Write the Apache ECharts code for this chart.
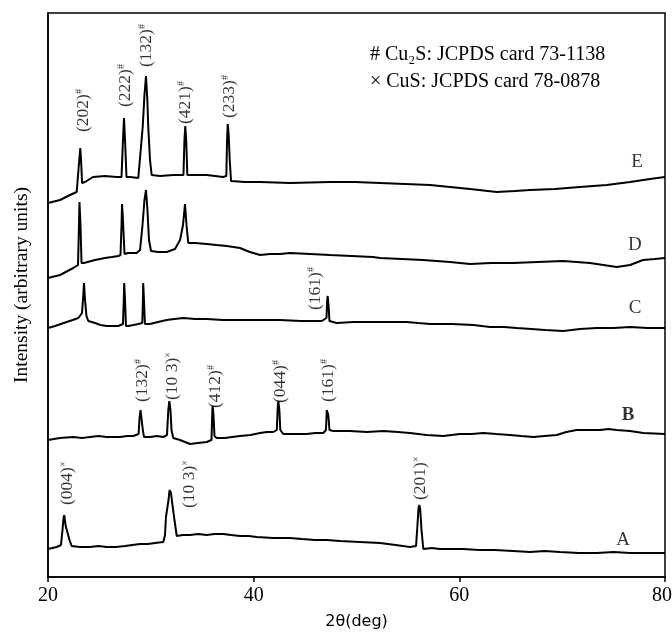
<!DOCTYPE html>
<html>
<head>
<meta charset="utf-8">
<script src="https://cdn.jsdelivr.net/npm/echarts@6/dist/echarts.min.js"></script>
<style>
  html, body { margin: 0; padding: 0; background: #fff; }
  #chart { width: 672px; height: 634px; }
</style>
</head>
<body>
<div id="chart"></div>
<script>
// X-ray diffraction patterns, 2θ (deg) vs intensity (arbitrary units, stacked)
const xTicks = [20, 40, 60, 80];

const traceA = [
  [20.00, 28], [20.85, 30], [21.26, 32], [21.41, 47], [21.51, 59], [21.59, 62], [21.70, 52],
  [21.80, 48], [21.97, 48], [22.09, 37], [22.30, 31], [23.10, 30], [24.08, 30], [24.90, 31],
  [25.71, 30], [26.60, 30], [27.49, 31], [28.20, 32], [28.95, 33], [29.70, 33], [30.41, 34],
  [31.21, 35], [31.38, 42], [31.47, 60], [31.62, 62], [31.72, 77], [31.82, 87], [31.86, 89],
  [31.96, 84], [32.13, 70], [32.30, 57], [32.52, 41], [33.10, 42], [33.81, 42], [34.60, 43],
  [35.43, 42], [36.20, 43], [37.05, 43], [37.80, 42], [38.67, 41], [39.50, 41], [40.30, 40],
  [41.90, 39], [43.53, 39], [44.70, 38], [45.96, 37], [47.10, 37], [48.40, 36], [50.30, 35],
  [52.29, 34], [53.80, 32], [55.20, 30], [55.79, 31], [55.93, 52], [56.03, 69], [56.11, 72],
  [56.20, 67], [56.32, 47], [56.50, 28], [57.30, 29], [58.12, 28], [59.20, 28], [60.39, 28],
  [61.90, 27], [63.47, 27], [65.20, 26], [66.87, 25], [68.30, 26], [69.79, 25], [71.60, 24],
  [73.36, 24], [75.00, 25], [76.60, 24], [78.30, 24], [80.00, 24]
];

const traceB = [
  [20.00, 137], [21.17, 139], [22.46, 140], [23.30, 139], [24.08, 140], [24.90, 141], [25.71, 140],
  [26.40, 140], [27.00, 140], [27.70, 141], [28.30, 141], [28.81, 143], [28.90, 159], [29.00, 167],
  [29.12, 165], [29.22, 147], [29.34, 140], [29.92, 140], [30.60, 141], [31.21, 140], [31.57, 142],
  [31.70, 167], [31.80, 176], [31.91, 167], [32.01, 147], [32.18, 139], [32.84, 137], [33.81, 133],
  [34.59, 134], [35.43, 135], [35.90, 137], [35.98, 167], [36.02, 171], [36.09, 162], [36.19, 141],
  [36.40, 139], [37.21, 139], [37.90, 140], [38.67, 141], [39.70, 142], [40.62, 144], [41.30, 145],
  [41.91, 145], [42.25, 147], [42.35, 172], [42.40, 176], [42.50, 167], [42.59, 147], [42.88, 143],
  [44.02, 143], [45.16, 143], [46.00, 144], [46.77, 144], [47.03, 147], [47.11, 167], [47.16, 169],
  [47.26, 162], [47.37, 147], [47.74, 146], [49.37, 146], [51.00, 145], [52.61, 146], [54.00, 145],
  [55.20, 144], [56.80, 142], [58.44, 141], [60.06, 143], [61.20, 143], [62.33, 144], [63.60, 143],
  [64.92, 142], [66.00, 141], [67.19, 140], [68.30, 141], [69.47, 142], [70.40, 145], [71.41, 147],
  [72.50, 147], [73.68, 147], [74.50, 148], [75.30, 147], [76.60, 146], [77.89, 144], [80.00, 143]
];

const traceC = [
  [20.00, 249], [20.68, 251], [21.82, 255], [22.40, 257], [22.95, 259], [23.31, 264], [23.43, 282],
  [23.50, 294], [23.60, 277], [23.74, 261], [23.92, 256], [24.57, 254], [25.10, 252], [25.71, 251],
  [26.30, 251], [26.84, 251], [27.29, 253], [27.37, 277], [27.41, 294], [27.49, 277], [27.58, 251],
  [27.81, 251], [28.30, 252], [28.78, 253], [29.17, 254], [29.23, 277], [29.26, 294], [29.33, 277],
  [29.43, 253], [29.92, 253], [30.70, 255], [31.54, 257], [32.30, 258], [33.16, 259], [34.30, 258],
  [35.43, 258], [37.00, 257], [38.67, 257], [40.60, 257], [42.56, 257], [44.60, 256], [46.62, 256],
  [47.08, 259], [47.15, 277], [47.20, 281], [47.28, 272], [47.37, 256], [48.07, 254], [49.70, 255],
  [51.29, 255], [53.10, 255], [54.88, 255], [56.00, 254], [57.15, 253], [59.30, 253], [61.36, 252],
  [62.99, 250], [64.30, 250], [65.58, 249], [67.00, 248], [68.33, 247], [70.11, 246], [71.73, 248],
  [73.36, 249], [75.00, 249], [76.60, 250], [78.30, 249], [80.00, 249]
];

const traceD = [
  [20.00, 299], [21.17, 302], [22.46, 309], [22.92, 312], [23.00, 347], [23.06, 375], [23.16, 352],
  [23.26, 314], [23.50, 314], [24.57, 317], [25.54, 319], [26.20, 320], [26.84, 321], [27.05, 322],
  [27.15, 352], [27.20, 373], [27.29, 357], [27.44, 323], [27.78, 324], [28.62, 324], [28.95, 327],
  [29.19, 352], [29.38, 377], [29.53, 387], [29.67, 367], [29.82, 337], [30.02, 326], [30.70, 325],
  [31.54, 325], [32.35, 328], [32.84, 337], [33.13, 352], [33.32, 373], [33.47, 352], [33.64, 334],
  [34.30, 334], [35.43, 333], [36.40, 332], [37.38, 331], [38.67, 329], [39.64, 325], [40.62, 322],
  [41.60, 323], [42.56, 323], [43.53, 324], [45.50, 323], [47.42, 322], [49.50, 321], [51.60, 320],
  [52.29, 319], [54.40, 318], [56.47, 317], [57.80, 316], [59.09, 315], [61.04, 313], [63.10, 314],
  [65.22, 314], [67.60, 315], [70.08, 316], [71.40, 315], [72.71, 314], [74.00, 312], [75.30, 310],
  [76.60, 312], [77.86, 317], [79.00, 318], [80.00, 319]
];

const traceE = [
  [20.00, 374], [21.17, 377], [22.14, 382], [22.79, 385], [22.95, 387], [23.04, 417], [23.14, 429],
  [23.24, 412], [23.31, 394], [23.60, 395], [24.38, 400], [25.54, 401], [26.68, 400], [27.15, 400],
  [27.29, 437], [27.39, 459], [27.49, 437], [27.63, 400], [27.97, 400], [28.78, 399], [28.95, 400],
  [29.21, 450], [29.38, 482], [29.53, 501], [29.66, 477], [29.75, 450], [29.92, 417], [30.08, 402],
  [30.89, 401], [32.18, 402], [33.17, 402], [33.27, 437], [33.35, 451], [33.44, 437], [33.55, 402],
  [34.30, 402], [35.43, 402], [36.24, 401], [37.02, 400], [37.34, 401], [37.41, 437], [37.48, 453],
  [37.57, 442], [37.67, 417], [37.80, 396], [39.16, 395], [40.62, 395], [43.53, 394], [47.42, 395],
  [49.85, 395], [52.29, 394], [54.72, 393], [57.15, 392], [59.09, 390], [61.04, 388], [63.63, 385],
  [65.41, 386], [66.87, 387], [69.30, 388], [71.73, 390], [74.33, 392], [76.60, 395], [78.54, 398],
  [80.00, 400]
];

// Reflection indices: [plane, phase mark, 2θ, intensity at the foot of the label]
const peaksA = [['(004)', '×', 21.90, 72], ['(10 3)', '×', 33.76, 69], ['(201)', '×', 56.22, 77]];
const peaksB = [['(132)', '#', 29.14, 175], ['(10 3)', '×', 32.06, 177], ['(412)', '#', 36.24, 169],
                ['(044)', '#', 42.56, 174], ['(161)', '#', 47.23, 175]];
const peaksC = [['(161)', '#', 45.96, 267]];
const peaksE = [['(202)', '#', 23.40, 445], ['(222)', '#', 27.49, 470], ['(132)', '#', 29.53, 510],
                ['(421)', '#', 33.32, 453], ['(233)', '#', 37.65, 459]];

// Sample names beside each pattern
const sampleNames = ['A', 'B', 'C', 'D', 'E'];
const sampleNamePos = [[75.92, 37], [76.40, 162], [77.08, 269], [77.08, 332], [77.28, 415]];

const phaseKey = ['# Cu\u2082S: JCPDS card 73-1138', '\u00d7 CuS: JCPDS card 78-0878'];

const SERIF = '"Liberation Serif", "Times New Roman", serif';

function patternSeries(name, data) {
  return {
    name: name, type: 'line', data: data, showSymbol: false, silent: true,
    lineStyle: { color: '#000', width: 2 }, z: 3
  };
}

function indexSeries(list) {
  return {
    type: 'scatter', symbolSize: 0, silent: true, z: 4,
    data: list.map(p => ({ value: [p[2], p[3]], name: p[0], mark: p[1] })),
    label: {
      show: true, position: 'inside', rotate: 90, align: 'left', verticalAlign: 'middle',
      color: '#000', fontFamily: SERIF, fontSize: 17.5,
      formatter: p => p.data.name + '{s|' + p.data.mark + '}',
      rich: { s: { fontFamily: SERIF, fontSize: 10, color: '#000', verticalAlign: 'top' } }
    }
  };
}

const chart = echarts.init(document.getElementById('chart'), null, { renderer: 'canvas' });

const xMax = xTicks[xTicks.length - 1];

const option = {
  animation: false,
  backgroundColor: '#fff',
  grid: {
    left: 48, right: 7, top: 13, bottom: 57, show: true, borderColor: '#000', borderWidth: 1.5,
    containLabel: false, outerBoundsMode: 'none'
  },
  xAxis: {
    type: 'value', min: xTicks[0], max: xMax, interval: 20,
    name: '2\u03b8(deg)', nameLocation: 'middle', nameGap: 37,
    nameTextStyle: { fontFamily: '"DejaVu Sans", sans-serif', fontSize: 16, color: '#000' },
    axisLine: { onZero: false, lineStyle: { color: '#000', width: 1.5 } },
    axisTick: { show: true, length: 5, lineStyle: { color: '#000', width: 1.5 } },
    axisLabel: {
      fontFamily: SERIF, fontSize: 20, color: '#000', margin: 9,
      // keep the last label inside the canvas edge
      formatter: v => (v === xMax ? '{last|' + v + '}' : String(v)),
      rich: { last: { fontFamily: SERIF, fontSize: 20, color: '#000', padding: [0, 6, 0, 0] } }
    },
    splitLine: { show: false }
  },
  yAxis: {
    type: 'value', min: 0, max: 564,
    name: 'Intensity (arbitrary units)', nameLocation: 'middle', nameGap: 16,
    nameTextStyle: { fontFamily: SERIF, fontSize: 19.5, color: '#000', padding: [0, 0, 0, 20] },
    axisLine: { show: true, lineStyle: { color: '#000', width: 1.5 } },
    axisTick: { show: false }, axisLabel: { show: false }, splitLine: { show: false }
  },
  graphic: phaseKey.map((t, i) => ({
    type: 'text', x: 370, y: 55 + i * 27, silent: true,
    style: {
      text: t, fill: '#000', font: '20px ' + SERIF,
      textAlign: 'left', textVerticalAlign: 'middle', align: 'left', verticalAlign: 'middle'
    }
  })),
  series: [
    patternSeries('A', traceA),
    patternSeries('B', traceB),
    patternSeries('C', traceC),
    patternSeries('D', traceD),
    patternSeries('E', traceE),
    indexSeries(peaksA),
    indexSeries(peaksB),
    indexSeries(peaksC),
    indexSeries(peaksE),
    {
      type: 'scatter', symbolSize: 0, silent: true, z: 4,
      data: sampleNames.map((n, i) => ({ value: sampleNamePos[i], name: n })),
      label: {
        show: true, position: 'inside', color: '#000', fontFamily: SERIF, fontSize: 19,
        formatter: p => p.name
      }
    }
  ]
};

// sample B is set in bold
option.series[9].data[1].label = { fontWeight: 'bold' };

chart.setOption(option);
</script>
</body>
</html>
